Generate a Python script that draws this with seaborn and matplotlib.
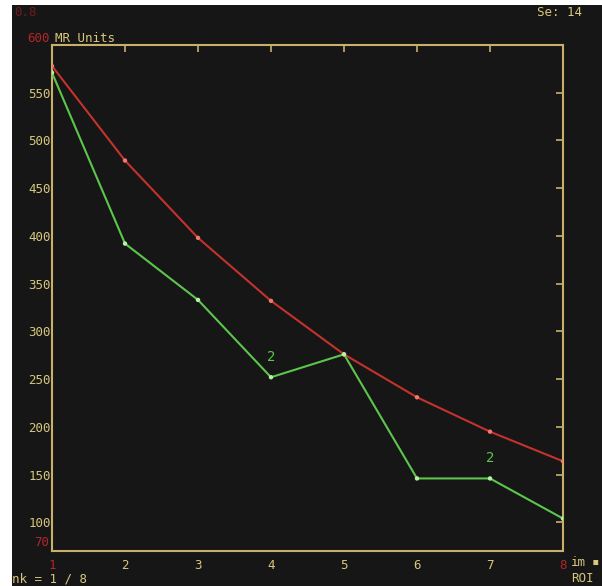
import matplotlib
matplotlib.use("Agg")
import matplotlib.pyplot as plt
import pandas as pd
import seaborn as sns
from matplotlib.patches import Rectangle

# Signal intensity per frame for the region of interest and its decay fit
frames = [1, 2, 3, 4, 5, 6, 7, 8]
fit_curve = [578, 479, 398, 332, 276, 231, 195, 164]
roi_signal = [571, 392, 333, 252, 276, 146, 146, 104]
y_ticks = [100, 150, 200, 250, 300, 350, 400, 450, 500, 550]
y_min, y_max = 70, 600
x_min, x_max = 1, 8
roi_labels = [(4, 252, "2"), (7, 146, "2")]

BG = "#161616"
YELLOW = "#d8c77c"
SPINE = "#c8b06c"
RED = "#c4322e"
RED_TXT = "#b3262a"
GREEN = "#5cc64c"

sns.set_style("dark")
plt.rcParams["font.family"] = ["DejaVu Sans Mono", "DejaVu Sans"]

W, H = 602, 586
fig = plt.figure(figsize=(W / 100, H / 100), dpi=100, facecolor="white")
fig.add_artist(Rectangle((12 / W, 0), 1, 1 - 5 / H, transform=fig.transFigure,
                         facecolor=BG, edgecolor="none", zorder=0))

ax = fig.add_axes([52 / W, 35 / H, 511 / W, 506 / H])
ax.set_facecolor(BG)

df = pd.DataFrame({
    "frame": frames * 2,
    "value": fit_curve + roi_signal,
    "series": ["fit"] * len(frames) + ["roi"] * len(frames),
})
sns.lineplot(data=df, x="frame", y="value", hue="series",
             palette={"fit": RED, "roi": GREEN}, linewidth=1.5,
             legend=False, ax=ax, zorder=3)
sns.scatterplot(data=df, x="frame", y="value", hue="series",
                palette={"fit": "#f07a6e", "roi": "#b8f0a8"}, s=10,
                linewidth=0, legend=False, ax=ax, zorder=4)

for fx, fy, lab in roi_labels:
    ax.annotate(lab, (fx, fy), xytext=(0, 20), textcoords="offset pixels",
                ha="center", va="center", color=GREEN, fontsize=10)

ax.set_xlim(x_min, x_max)
ax.set_ylim(y_min, y_max)
ax.set_xticks(frames)
ax.set_xticklabels([str(f) for f in frames])
ax.set_yticks(y_ticks)
ax.set_yticklabels([str(v) for v in y_ticks])
for i, lbl in enumerate(ax.get_xticklabels()):
    lbl.set_color(RED_TXT if i in (0, len(frames) - 1) else YELLOW)
ax.tick_params(axis="both", direction="in", length=5, width=1.2, color=SPINE,
               labelsize=9, top=True, right=True, labelcolor=YELLOW)
ax.tick_params(axis="x", pad=6)
ax.tick_params(axis="y", pad=1)
for i, lbl in enumerate(ax.get_xticklabels()):
    lbl.set_color(RED_TXT if i in (0, len(frames) - 1) else YELLOW)
ax.set_xlabel("")
ax.set_ylabel("")
ax.grid(False)
for s in ax.spines.values():
    s.set_visible(True)
    s.set_color(SPINE)
    s.set_linewidth(1.5)

def ftext(x, y, s, color=YELLOW, ha="left", size=9):
    fig.text(x / W, 1 - y / H, s, color=color, ha=ha, va="center", fontsize=size)

ftext(50, 38, "600", color=RED_TXT, ha="right")
ftext(55, 38, "MR Units")
ftext(49, 543, "70", color=RED_TXT, ha="right")
ftext(14, 12, "0.8", color="#6e1c20")
ftext(582, 12, "Se: 14", ha="right")
ftext(12, 579, "nk = 1 / 8")
ftext(571, 562, "im")
ftext(592, 562, "▪")
ftext(571, 579, "ROI")

fig.savefig("out.png", dpi=100, facecolor=fig.get_facecolor())
